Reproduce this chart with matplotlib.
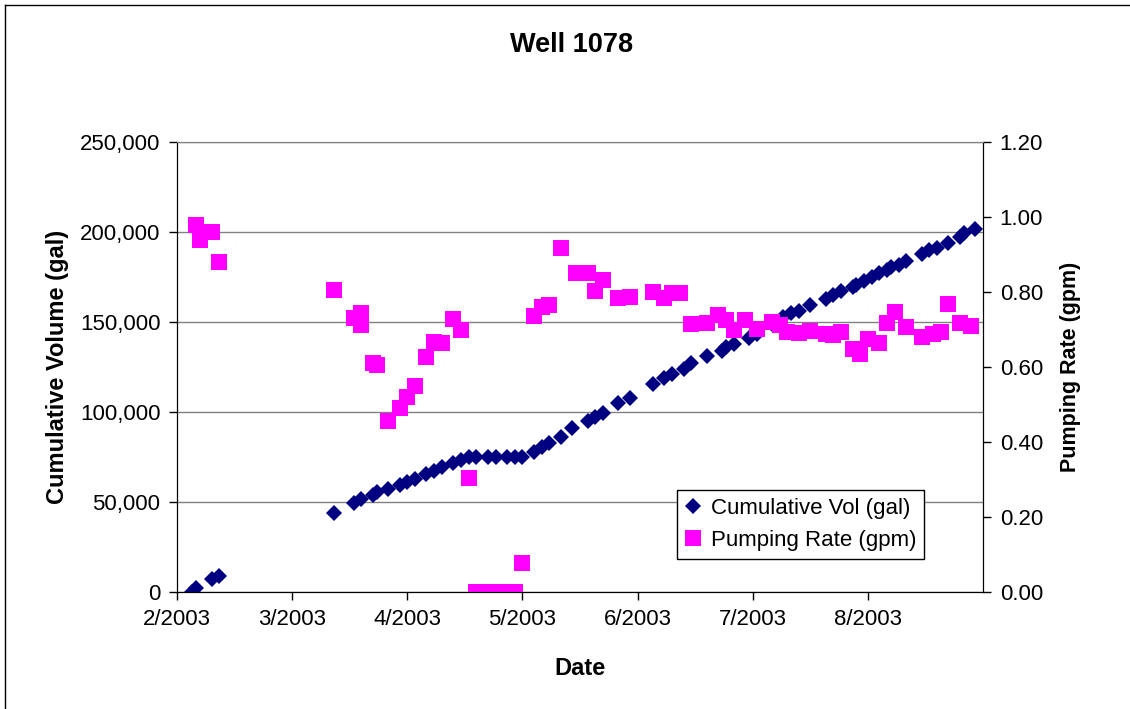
import pandas as pd
import matplotlib
import matplotlib.pyplot as plt
from matplotlib.lines import Line2D
from matplotlib.ticker import FuncFormatter

matplotlib.use('Agg')
plt.rcParams['font.family'] = ['Liberation Sans', 'DejaVu Sans']

# Cumulative volume readings (gal)
vol_dates = ['2003-02-07', '2003-02-08', '2003-02-12', '2003-02-14', '2003-03-16',
             '2003-03-21', '2003-03-23', '2003-03-26', '2003-03-27', '2003-03-30',
             '2003-04-02', '2003-04-04', '2003-04-06', '2003-04-09', '2003-04-11',
             '2003-04-13', '2003-04-16', '2003-04-18', '2003-04-20', '2003-04-22',
             '2003-04-25', '2003-04-27', '2003-04-30', '2003-05-02', '2003-05-04',
             '2003-05-07', '2003-05-09', '2003-05-11', '2003-05-14', '2003-05-17',
             '2003-05-21', '2003-05-23', '2003-05-25', '2003-05-29', '2003-06-01',
             '2003-06-07', '2003-06-10', '2003-06-12', '2003-06-15', '2003-06-17',
             '2003-06-21', '2003-06-25', '2003-06-26', '2003-06-28', '2003-07-02',
             '2003-07-04', '2003-07-08', '2003-07-11', '2003-07-13', '2003-07-15',
             '2003-07-18', '2003-07-22', '2003-07-24', '2003-07-26', '2003-07-29',
             '2003-07-30', '2003-08-01', '2003-08-03', '2003-08-05', '2003-08-07',
             '2003-08-08', '2003-08-10', '2003-08-12', '2003-08-16', '2003-08-18',
             '2003-08-20', '2003-08-23', '2003-08-26', '2003-08-27', '2003-08-30']
cum_vol = [0, 2200, 7200, 8900, 43900,
           49400, 51700, 53900, 55600, 57200,
           59400, 61100, 62800, 65600, 67200,
           69400, 71700, 73300, 75000, 75000,
           75000, 75000, 75000, 74800, 75000,
           77800, 80600, 82800, 86100, 91100,
           95000, 97200, 99400, 105000, 107800,
           115600, 118900, 121100, 123900, 127200,
           131100, 133900, 136100, 137800, 141100,
           143300, 148900, 152800, 155000, 156100,
           159400, 162800, 165000, 167200, 169400,
           170600, 172800, 175000, 177200, 178900,
           180600, 181700, 183900, 187800, 190000,
           191100, 193900, 197200, 199400, 201700]

# Pumping rate (gpm)
rate_dates = ['2003-02-08', '2003-02-09', '2003-02-12', '2003-02-14', '2003-03-16',
              '2003-03-21', '2003-03-23', '2003-03-23', '2003-03-26', '2003-03-27',
              '2003-03-30', '2003-04-02', '2003-04-04', '2003-04-06', '2003-04-09',
              '2003-04-11', '2003-04-13', '2003-04-16', '2003-04-18', '2003-04-20',
              '2003-04-22', '2003-04-25', '2003-04-27', '2003-04-30', '2003-05-02',
              '2003-05-04', '2003-05-07', '2003-05-09', '2003-05-11', '2003-05-14',
              '2003-05-18', '2003-05-21', '2003-05-23', '2003-05-25', '2003-05-29',
              '2003-06-01', '2003-06-07', '2003-06-10', '2003-06-12', '2003-06-14',
              '2003-06-17', '2003-06-21', '2003-06-24', '2003-06-26', '2003-06-28',
              '2003-07-01', '2003-07-04', '2003-07-08', '2003-07-10', '2003-07-12',
              '2003-07-15', '2003-07-18', '2003-07-22', '2003-07-24', '2003-07-26',
              '2003-07-29', '2003-07-31', '2003-08-02', '2003-08-05', '2003-08-07',
              '2003-08-09', '2003-08-12', '2003-08-16', '2003-08-19', '2003-08-21',
              '2003-08-23', '2003-08-26', '2003-08-29']
pump_rate = [0.98, 0.94, 0.96, 0.88, 0.805,
             0.731, 0.744, 0.712, 0.610, 0.605,
             0.457, 0.491, 0.521, 0.549, 0.627,
             0.666, 0.663, 0.727, 0.700, 0.305,
             0.0, 0.0, 0.0, 0.0, 0.0,
             0.077, 0.735, 0.760, 0.766, 0.917,
             0.850, 0.850, 0.802, 0.832, 0.783,
             0.787, 0.799, 0.783, 0.797, 0.798,
             0.715, 0.718, 0.739, 0.725, 0.699,
             0.725, 0.701, 0.719, 0.711, 0.694,
             0.691, 0.696, 0.688, 0.685, 0.694,
             0.647, 0.636, 0.674, 0.665, 0.717,
             0.747, 0.707, 0.680, 0.687, 0.694,
             0.769, 0.718, 0.709]

x_tick_labels = ['2/2003', '3/2003', '4/2003', '5/2003', '6/2003', '7/2003', '8/2003']

vol_x = pd.to_datetime(vol_dates)
rate_x = pd.to_datetime(rate_dates)

# axis runs 210 days with a major unit of 30 days
x_start = pd.Timestamp('2003-02-03')
x_end = x_start + pd.Timedelta(days=210)
x_ticks = [x_start + pd.Timedelta(days=30 * i) for i in range(len(x_tick_labels))]

fig = plt.figure(figsize=(11.3, 7.09), dpi=100)
ax = fig.add_axes([177 / 1130, 1 - 592 / 709, 806 / 1130, 450 / 709])
ax2 = ax.twinx()

ax.plot(vol_x, cum_vol, linestyle='none', marker='D', markersize=8.5,
        color='#000080', markeredgewidth=0, label='Cumulative Vol (gal)')
ax2.plot(rate_x, pump_rate, linestyle='none', marker='s', markersize=11,
         color='#FF00FF', markeredgewidth=0, label='Pumping Rate (gpm)')

ax.set_xlim(x_start, x_end)
ax.set_ylim(0, 250000)
ax.set_yticks(range(0, 250001, 50000))
ax.yaxis.set_major_formatter(FuncFormatter(lambda v, p: f'{int(v):,}'))
ax2.set_ylim(0, 1.2)
ax2.set_yticks([0, 0.2, 0.4, 0.6, 0.8, 1.0, 1.2])
ax2.yaxis.set_major_formatter(FuncFormatter(lambda v, p: f'{v:.2f}'))
ax.set_xticks(x_ticks)
ax.set_xticklabels(x_tick_labels)

ax.grid(axis='y', color='#808080', linewidth=1)
ax.set_axisbelow(True)
for a in (ax, ax2):
    a.spines['top'].set_color('#808080')
    a.spines['left'].set_color('black')
    a.spines['right'].set_color('black')
    a.spines['bottom'].set_color('black')
    a.tick_params(direction='out', length=6, width=1, labelsize=16, pad=6)

ax.set_ylabel('Cumulative Volume (gal)', fontsize=17, fontweight='bold', labelpad=8)
ax2.set_ylabel('Pumping Rate (gpm)', fontsize=15.5, fontweight='bold', labelpad=12)
ax.set_xlabel('Date', fontsize=17, fontweight='bold', labelpad=20)
fig.text(572 / 1130, 1 - 45 / 709, 'Well 1078', fontsize=19.5, fontweight='bold',
         ha='center', va='center')

handles = ax.get_lines() + ax2.get_lines()
leg = ax2.legend(handles, [h.get_label() for h in handles], loc='upper left',
                 bbox_to_anchor=(0.62, 0.227), fontsize=16, frameon=True,
                 fancybox=False, framealpha=1, edgecolor='black',
                 handlelength=0.8, handletextpad=0.4, borderpad=0.35,
                 labelspacing=0.5, borderaxespad=0)
leg.get_frame().set_linewidth(1)

# outer chart border (left and top edges visible)
fig.add_artist(Line2D([4.5 / 1130, 4.5 / 1130], [0, 1 - 5 / 709], color='black', linewidth=1))
fig.add_artist(Line2D([4.5 / 1130, 1], [1 - 5 / 709, 1 - 5 / 709], color='black', linewidth=1))

fig.savefig('out.png', dpi=100)
